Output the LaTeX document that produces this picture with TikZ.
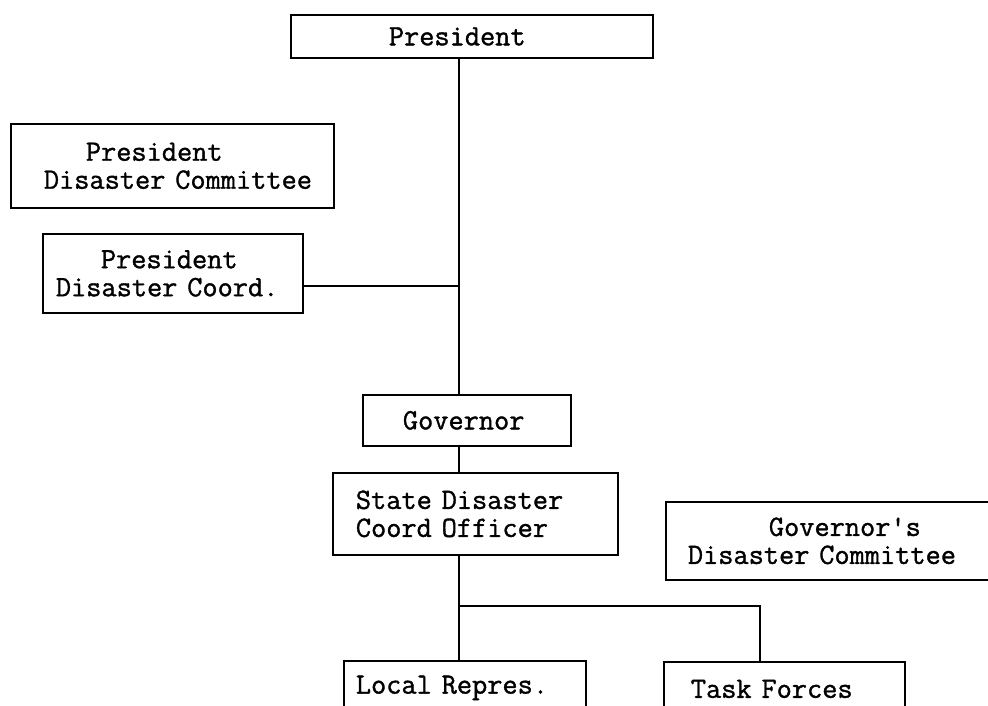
\documentclass[tikz,border=0pt]{standalone}
\usepackage{fontspec}
\newfontfamily\typew[FakeBold=1.2]{Latin Modern Mono}
\newcommand\tyfont{\fontsize{29.5}{28}\selectfont\typew\spaceskip=0.525em\relax}
\begin{document}
\begin{tikzpicture}[x=1pt,y=-1pt,
  orgbox/.style={draw, line width=1.8pt, rectangle, anchor=north west,
    inner xsep=0pt, inner ysep=0pt, align=left, font=\tyfont},
  link/.style={draw, line width=1.8pt}]
\fill[white] (0,0) rectangle (988,705);
\useasboundingbox (0,0) rectangle (988,705);
% boxes
\node[orgbox, text width=362pt, minimum height=43pt] (pres) at (290,14)
  {\hspace*{98pt}President};
\node[orgbox, text width=323pt, minimum height=84pt] (pdc) at (10,123)
  {\hspace*{75pt}President\\\hspace*{33pt}Disaster Committee};
\node[orgbox, text width=260pt, minimum height=79pt] (pcoord) at (42,233)
  {\hspace*{58pt}President\\\hspace*{13pt}Disaster Coord.};
\node[orgbox, text width=208pt, minimum height=51pt] (gov) at (362,394)
  {\hspace*{40pt}Governor};
\node[orgbox, text width=285pt, minimum height=82pt] (sdco) at (332,472)
  {\hspace*{23pt}State Disaster\\\hspace*{23pt}Coord Officer};
\node[orgbox, text width=330pt, minimum height=78pt] (gdc) at (665,501)
  {\hspace*{103pt}Governor's\\\hspace*{22pt}Disaster Committee};
\node[orgbox, text width=242pt, minimum height=54pt] (local) at (343,660)
  {\hspace*{12pt}Local Repres.};
\node[orgbox, text width=241pt, minimum height=54pt] (task) at (663,661)
  {\hspace*{27pt}Task Forces};
% helper coordinates
\coordinate (sx) at (459,0);
\coordinate (pcy) at (0,286);
\coordinate (br) at (0,606);
\coordinate (tx) at (760,0);
% connectors
\draw[link] (sx |- pres.south) -- (sx |- gov.north);
\draw[link] (pcoord.east |- pcy) -- (sx |- pcy);
\draw[link] (sx |- gov.south) -- (sx |- sdco.north);
\draw[link] (sx |- sdco.south) -- (sx |- local.north);
\draw[link] (sx |- br) -- (tx |- br) -- (tx |- task.north);
\end{tikzpicture}
\end{document}
